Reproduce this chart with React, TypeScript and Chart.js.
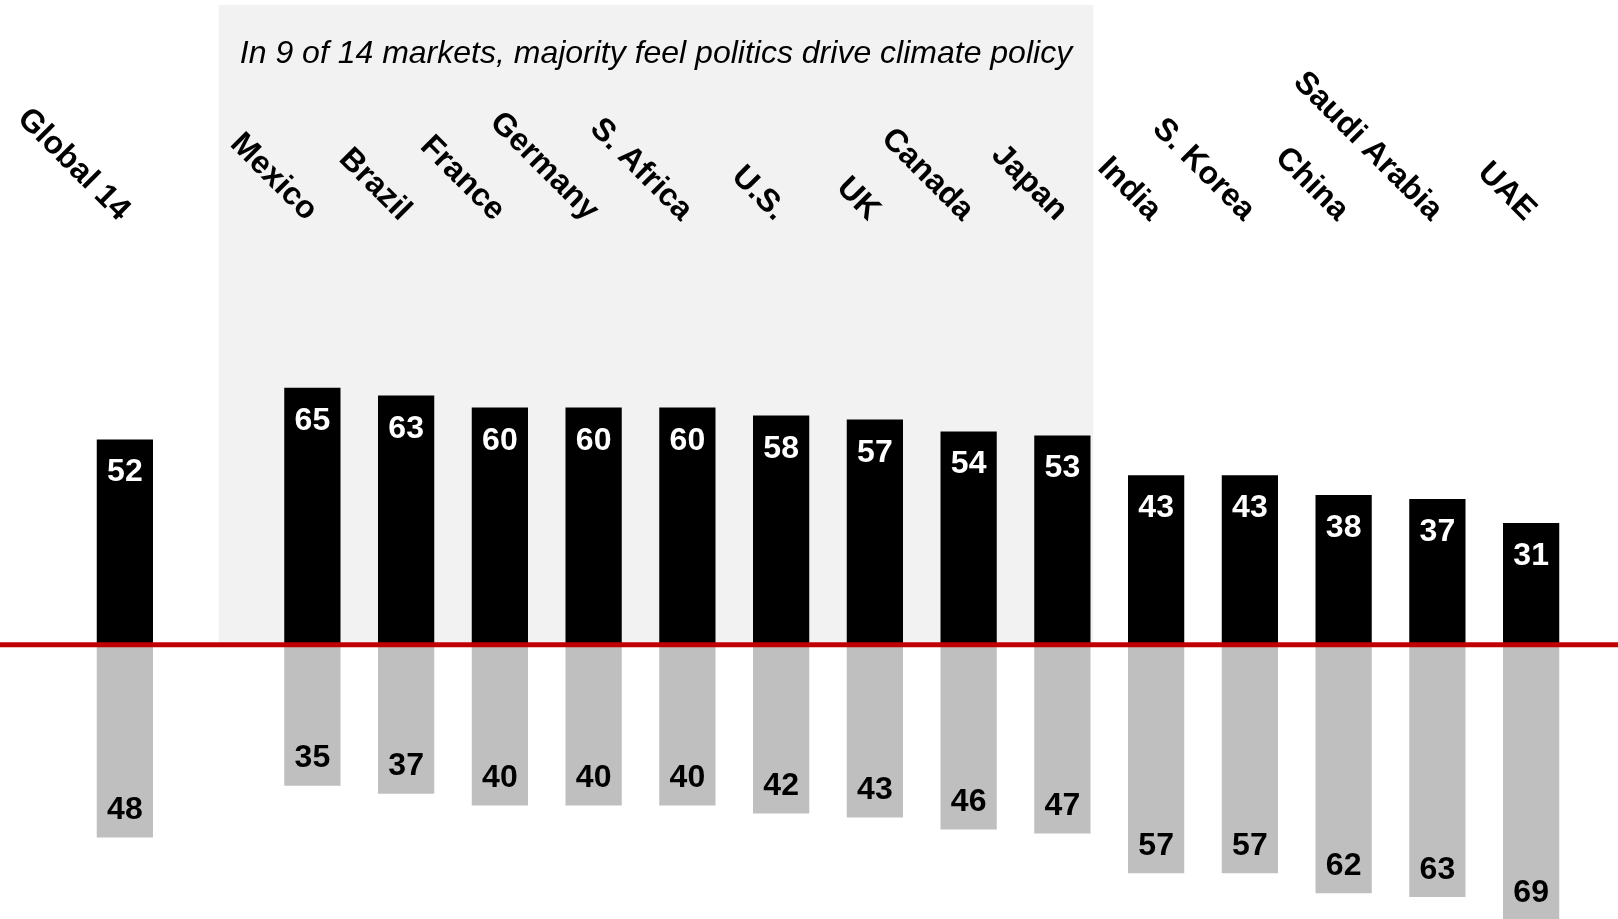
import React, { useEffect, useRef } from "react";
import { Chart, registerables } from "chart.js";

Chart.register(...registerables);

// ---- Data ----
const categories: string[] = [
  "Global 14",
  "",
  "Mexico",
  "Brazil",
  "France",
  "Germany",
  "S. Africa",
  "U.S.",
  "UK",
  "Canada",
  "Japan",
  "India",
  "S. Korea",
  "China",
  "Saudi Arabia",
  "UAE",
];
const politicsDriveValues: (number | null)[] = [52, null, 65, 63, 60, 60, 60, 58, 57, 54, 53, 43, 43, 38, 37, 31];
const otherValues: (number | null)[] = [48, null, 35, 37, 40, 40, 40, 42, 43, 46, 47, 57, 57, 62, 63, 69];
const titleText = "In 9 of 14 markets, majority feel politics drive climate policy";
const highlightFirst = "Mexico";
const highlightLast = "Japan";

const FONT = "'Liberation Sans', Arial, Helvetica, sans-serif";

const overlayPlugin = {
  id: "overlay",
  beforeDatasetsDraw(chart: any) {
    const { ctx } = chart;
    const x = chart.scales.x;
    const y = chart.scales.y;
    const w = x.getPixelForValue(1) - x.getPixelForValue(0);
    const left = x.getPixelForValue(categories.indexOf(highlightFirst)) - w;
    const right = x.getPixelForValue(categories.indexOf(highlightLast)) + w * 0.33;
    const top = 5;
    const bottom = y.getPixelForValue(0);
    ctx.save();
    ctx.fillStyle = "#f2f2f2";
    ctx.fillRect(left, top, right - left, bottom - top);
    ctx.fillStyle = "#000000";
    ctx.font = `italic 32px ${FONT}`;
    ctx.textAlign = "center";
    ctx.textBaseline = "alphabetic";
    ctx.fillText(titleText, (left + right) / 2, 63);
    ctx.restore();
  },
  afterDatasetsDraw(chart: any) {
    const { ctx } = chart;
    const x = chart.scales.x;
    const y = chart.scales.y;
    const zero = y.getPixelForValue(0);
    ctx.save();
    // red zero line
    ctx.strokeStyle = "#c00000";
    ctx.lineWidth = 5;
    ctx.beginPath();
    ctx.moveTo(0, zero - 1.5);
    ctx.lineTo(chart.width, zero - 1.5);
    ctx.stroke();

    // value labels
    ctx.font = `bold 32px ${FONT}`;
    ctx.textAlign = "center";
    ctx.textBaseline = "alphabetic";
    const metaTop = chart.getDatasetMeta(0);
    metaTop.data.forEach((bar: any, i: number) => {
      const v = politicsDriveValues[i];
      if (v == null) return;
      ctx.fillStyle = "#ffffff";
      ctx.fillText(String(v), bar.x, bar.y + 42);
    });
    const metaBottom = chart.getDatasetMeta(1);
    metaBottom.data.forEach((bar: any, i: number) => {
      const v = otherValues[i];
      if (v == null) return;
      ctx.fillStyle = "#000000";
      ctx.fillText(String(v), bar.x, bar.y - 18.5);
    });

    // rotated category labels
    ctx.font = `bold 32px ${FONT}`;
    ctx.fillStyle = "#000000";
    ctx.textAlign = "right";
    ctx.textBaseline = "middle";
    categories.forEach((label, i) => {
      if (!label) return;
      const px = x.getPixelForValue(i) - 0.5;
      ctx.save();
      ctx.translate(px, 215.5);
      ctx.rotate(Math.PI / 4);
      ctx.fillText(label, 0, 0);
      ctx.restore();
    });
    ctx.restore();
  },
};

export default function App() {
  const canvasRef = useRef<HTMLCanvasElement | null>(null);

  useEffect(() => {
    const canvas = canvasRef.current;
    if (!canvas) return;
    const chart = new Chart(canvas, {
      type: "bar",
      data: {
        labels: categories,
        datasets: [
          {
            label: "Politics drive climate policy",
            data: politicsDriveValues,
            backgroundColor: "#000000",
            barPercentage: 0.6,
            categoryPercentage: 1,
          },
          {
            label: "Other",
            data: otherValues.map((v) => (v == null ? null : -v)),
            backgroundColor: "#bfbfbf",
            barPercentage: 0.6,
            categoryPercentage: 1,
          },
        ],
      },
      options: {
        responsive: false,
        animation: false,
        devicePixelRatio: 1,
        layout: { padding: { left: 78, right: 40, top: 0, bottom: 0 } },
        scales: {
          x: { display: false, stacked: true, offset: true, grid: { display: false } },
          y: { display: false, stacked: true, min: -68.5, max: 162.4, grid: { display: false } },
        },
        plugins: {
          legend: { display: false },
          tooltip: { enabled: false },
          title: { display: false },
        },
      },
      plugins: [overlayPlugin],
    });
    return () => chart.destroy();
  }, []);

  return (
    <div style={{ position: "absolute", left: 0, top: 0, width: 1618, height: 919, background: "#ffffff" }}>
      <canvas ref={canvasRef} width={1618} height={919} style={{ display: "block" }} />
    </div>
  );
}
